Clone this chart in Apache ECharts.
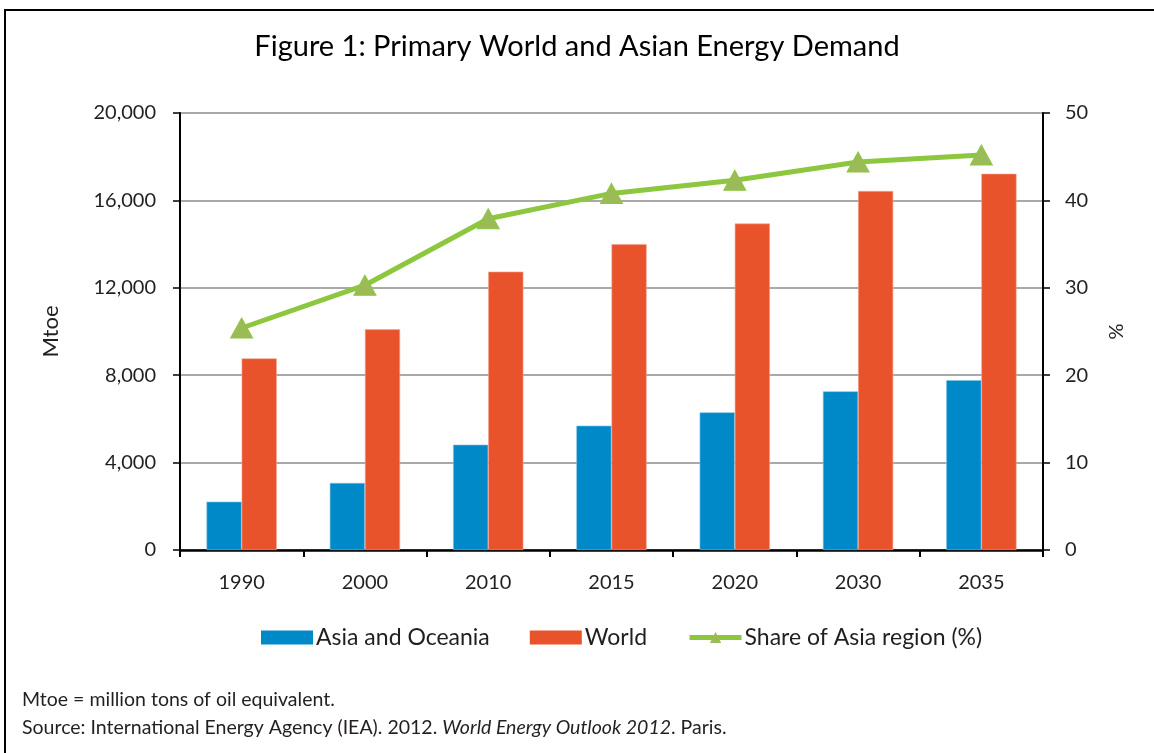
<!DOCTYPE html>
<html>
<head>
<meta charset="utf-8">
<title>Figure 1: Primary World and Asian Energy Demand</title>
<script src="https://cdn.jsdelivr.net/npm/echarts@6/dist/echarts.min.js"></script>
<style>
  html, body { margin: 0; padding: 0; background: #fff; }
  #chart { width: 1154px; height: 753px; }
</style>
</head>
<body>
<div id="chart"></div>
<script>
// Years on the category axis
var categories = ['1990', '2000', '2010', '2015', '2020', '2030', '2035'];
// Primary energy demand, Mtoe
var asiaOceania = [2210, 3070, 4820, 5690, 6300, 7260, 7770];
var world = [8770, 10100, 12740, 14000, 14940, 16430, 17220];
// Asia's share of world demand, %
var asiaShare = [25.4, 30.3, 37.9, 40.8, 42.3, 44.4, 45.2];

var FONT = 'Lato, "Open Sans", sans-serif';
var TEXT = '#231f20';

var chart = echarts.init(document.getElementById('chart'), null, { renderer: 'canvas' });

chart.setOption({
  backgroundColor: '#ffffff',
  animation: false,
  textStyle: { fontFamily: FONT, color: TEXT },
  title: {
    text: 'Figure 1: Primary World and Asian Energy Demand',
    left: 'center',
    top: 27,
    textStyle: { fontFamily: FONT, fontSize: 29, fontWeight: 'normal', color: '#000' }
  },
  graphic: [
    {
      type: 'rect',
      shape: { x: 5, y: 10, width: 1160, height: 760 },
      style: { fill: 'none', stroke: '#000', lineWidth: 2 },
      silent: true
    },
    {
      type: 'text',
      left: 22,
      top: 690,
      style: {
        text: 'Mtoe = million tons of oil equivalent.',
        font: '19.5px ' + FONT,
        fill: TEXT
      }
    },
    {
      type: 'text',
      left: 22,
      top: 718,
      style: {
        text: 'Source: International Energy Agency (IEA). 2012. {i|World Energy Outlook 2012}. Paris.',
        font: '19.5px ' + FONT,
        fill: TEXT,
        rich: {
          i: { fontStyle: 'italic', fontSize: 19.5, fontFamily: FONT, fill: TEXT }
        }
      }
    }
  ],
  legend: {
    left: 256,
    top: 621,
    itemWidth: 52,
    itemHeight: 14,
    itemGap: 40,
    textStyle: { fontFamily: FONT, fontSize: 23, color: TEXT, padding: [0, 0, 0, -2] },
    data: [
      { name: 'Asia and Oceania', icon: 'rect', itemStyle: { borderWidth: 0 } },
      { name: 'World', icon: 'rect', itemStyle: { borderWidth: 0 } },
      {
        name: 'Share of Asia region (%)',
        lineStyle: { width: 5, color: '#8dc63f' },
        itemStyle: { color: '#9bbb59', borderWidth: 0 }
      }
    ]
  },
  grid: { left: 180, right: 111, top: 113, bottom: 203, containLabel: false },
  xAxis: {
    type: 'category',
    data: categories,
    boundaryGap: true,
    axisLine: { lineStyle: { color: '#000', width: 2.5 } },
    axisTick: { show: true, alignWithLabel: false, interval: 0, length: 7, lineStyle: { color: '#000', width: 2 } },
    axisLabel: { margin: 23, fontSize: 20, color: TEXT, fontFamily: FONT }
  },
  yAxis: [
    {
      type: 'value',
      min: 0,
      max: 20000,
      interval: 4000,
      name: 'Mtoe',
      nameLocation: 'middle',
      nameGap: 118,
      nameRotate: 90,
      nameTextStyle: { fontSize: 22, color: TEXT, fontFamily: FONT },
      axisLine: { show: true, lineStyle: { color: '#000', width: 2 } },
      axisTick: { show: true, length: 7, lineStyle: { color: '#000', width: 1.5 } },
      axisLabel: {
        margin: 24,
        fontSize: 20,
        color: TEXT,
        fontFamily: FONT,
        formatter: function (v) { return v.toLocaleString('en-US'); }
      },
      splitLine: { show: true, lineStyle: { color: '#8c8c8c', width: 1.5 } }
    },
    {
      type: 'value',
      min: 0,
      max: 50,
      interval: 10,
      position: 'right',
      name: '%',
      nameLocation: 'middle',
      nameGap: 62,
      nameRotate: -90,
      nameTextStyle: { fontSize: 20, color: TEXT, fontFamily: FONT },
      axisLine: { show: true, lineStyle: { color: '#000', width: 2 } },
      axisTick: { show: true, length: 7, lineStyle: { color: '#000', width: 1.5 } },
      axisLabel: { margin: 22, fontSize: 20, color: TEXT, fontFamily: FONT },
      splitLine: { show: false }
    }
  ],
  series: [
    {
      name: 'Asia and Oceania',
      type: 'bar',
      data: asiaOceania,
      barGap: '0%',
      barCategoryGap: '43%',
      itemStyle: { color: '#0089c8', borderColor: '#7cc3e4', borderWidth: 0.6 }
    },
    {
      name: 'World',
      type: 'bar',
      data: world,
      barGap: '0%',
      barCategoryGap: '43%',
      itemStyle: { color: '#e8532c', borderColor: '#f3a48f', borderWidth: 0.6 }
    },
    {
      name: 'Share of Asia region (%)',
      type: 'line',
      yAxisIndex: 1,
      data: asiaShare,
      symbol: 'triangle',
      symbolSize: [22, 20],
      lineStyle: { color: '#8dc63f', width: 5 },
      itemStyle: { color: '#9bbb59', borderColor: '#8dc63f', borderWidth: 1 },
      z: 5
    }
  ]
});
</script>
</body>
</html>
